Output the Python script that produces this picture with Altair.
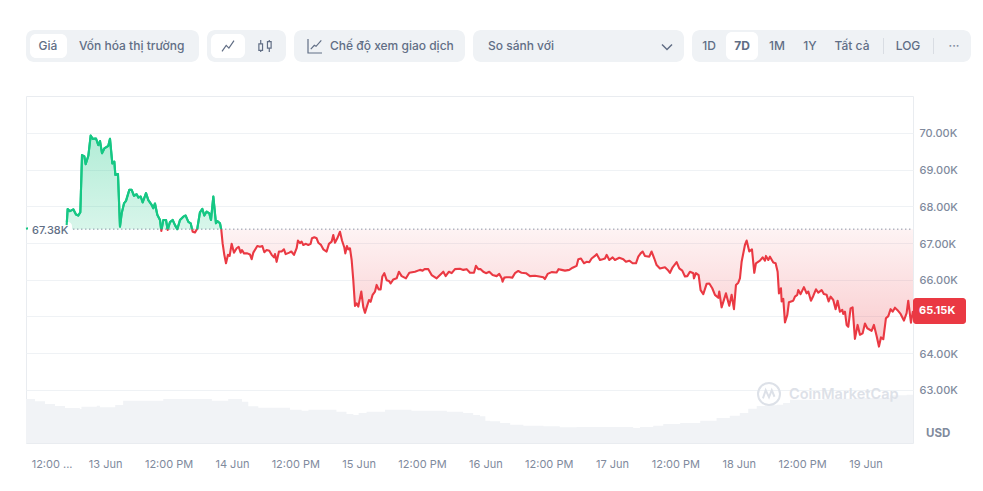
import altair as alt
import pandas as pd

BASE_PRICE = 67.38
LAST_PRICE = 65.15

HOURS = [0, 2, 4, 6, 7.70, 7.89, 8.33, 8.96, 9.47, 9.91, 10.29, 10.61, 11.05, 11.30, 11.81, 12.25, 12.63, 13.26, 13.70, 14.02, 14.39, 14.84, 15.59, 15.91, 16.35, 16.73, 16.92, 17.42, 17.80, 18.12, 18.56, 18.94, 19.57, 20.01, 20.45, 20.96, 21.28, 21.72, 22.10, 22.73, 23.17, 23.80, 24.12, 24.43, 24.87, 25.38, 25.63, 26.01, 26.52, 26.83, 27.27, 27.78, 28.22, 28.66, 29.17, 29.80, 30.24, 30.75, 31.19, 31.57, 32.01, 32.45, 32.95, 33.40, 33.77, 34.22, 34.72, 35.04, 35.48, 35.98, 36.24, 36.74, 36.99,
         37.24, 37.56, 37.88, 38.26, 38.57, 38.95, 39.39, 39.90, 40.28, 40.65, 40.91, 41.29, 41.92, 42.42, 42.74, 43.05, 43.81, 44.32, 44.76, 45.14, 45.58, 46.08, 46.53, 46.97, 47.16, 47.47, 47.91, 48.42, 48.86, 49.18, 49.87, 50.25, 50.76, 51.26, 51.51, 51.89, 52.21, 52.52, 53.03, 53.47, 53.91, 54.16, 54.61, 55.05, 55.36, 55.87, 56.31, 56.94, 57.38, 57.89, 58.20, 58.52, 58.96, 59.47, 59.85, 60.29, 60.48, 60.79, 61.05, 61.36, 61.68, 61.99, 62.31, 62.62, 62.94, 63.51, 63.89, 64.20, 64.52, 64.96, 65.28, 65.65, 66.10, 66.41, 66.79, 67.17, 67.49, 67.86, 68.31, 68.75, 69.06, 69.57, 70.20, 70.64, 71.15, 71.97, 72.60, 73.67, 74.62, 75.12, 75.50, 76.20, 76.83, 77.78, 78.41, 79.04, 79.48, 80.11, 80.62, 81.25, 82.19,
         82.83, 83.46, 84.09, 84.85, 85.22, 85.67, 86.11, 86.61, 87.12, 87.75, 88.38, 89.14, 89.64, 90.09, 90.27, 90.59, 91.03, 91.54, 92.11, 92.61, 93.24, 93.87, 94.69, 95.45, 96.40, 97.22, 97.98, 98.29, 98.80, 99.55, 100.50, 100.88, 101.45, 102.08, 102.90, 103.53, 104.29, 104.61, 105.11, 105.68, 106.18, 106.69, 107.13, 107.76, 108.08, 108.71, 109.21, 109.66, 109.97, 110.48, 111.11, 111.55, 112.37, 113.13, 113.63, 114.26, 114.90, 115.53, 115.97, 116.41, 116.79, 117.23, 118.05, 118.49, 119.00, 119.44, 120.07, 121.02, 121.65, 121.97, 122.47, 123.23, 123.73, 124.30, 124.81, 125.25, 125.75,
         126.39, 126.51, 126.89, 127.40, 127.77, 128.28, 128.91, 129.42, 129.98, 130.49, 131.12, 131.31, 131.75, 132.57, 133.20, 133.65, 134.09, 134.47, 134.91, 135.22, 135.54, 136.17, 136.49, 136.99, 137.50, 137.94, 138.25, 139.01, 139.52, 139.96, 140.15, 140.59, 140.91, 141.54, 141.98, 142.36, 142.61, 142.99, 143.12, 143.43, 143.75, 144.19, 144.50, 145.32, 145.64, 146.08, 146.27, 146.71, 147.34, 147.85, 148.17, 148.67, 149.11, 149.62, 150.06, 150.69, 151.13, 151.64, 152.02, 152.40, 152.90, 153.34, 153.72, 154.16, 154.61, 154.79, 155.11, 155.43, 155.74, 156.18, 156.56, 157.00, 157.51, 157.95, 158.46, 158.90, 159.34, 160.16, 160.60, 161.11, 161.55, 161.93, 162.37, 162.87, 163.32, 163.76, 164.14, 164.58, 165.02, 165.65, 166.28, 166.79, 167.10, 167.61, 168]

PRICES = [67.39, 67.45, 67.42, 67.48, 67.49, 67.93, 67.87, 67.92, 67.78, 67.75, 67.84, 69.40, 69.36, 69.15, 69.38, 69.93, 69.84, 69.85, 69.67, 69.78, 69.45, 69.58, 69.65, 69.84, 69.17, 69.22, 68.86, 68.88, 67.45, 67.81, 68.08, 68.15, 68.45, 68.45, 68.29, 68.33, 68.24, 68.27, 68.11, 68.36, 68.17, 68.04, 67.95, 68.08, 67.77, 67.63, 67.33, 67.63, 67.63, 67.36, 67.57, 67.63, 67.49, 67.38, 67.63, 67.72, 67.75, 67.58, 67.54, 67.31, 67.29, 67.40, 67.84, 67.93, 67.75, 67.86, 67.81, 67.63, 68.27, 67.54, 67.60, 67.54, 67.36,
          66.99, 66.68, 66.45, 66.68, 66.65, 66.98, 66.74, 66.86, 66.90, 66.74, 66.81, 66.72, 66.72, 66.69, 66.56, 66.74, 66.92, 66.90, 66.92, 66.75, 66.81, 66.79, 66.68, 66.61, 66.70, 66.49, 66.77, 66.77, 66.83, 66.70, 66.74, 66.77, 66.68, 66.86, 67.07, 67.00, 67.04, 66.95, 66.98, 66.95, 66.98, 67.13, 67.16, 67.13, 67.01, 66.95, 66.83, 66.77, 66.98, 67.04, 67.22, 67.01, 67.13, 67.31, 67.07, 66.88, 66.72, 66.92, 66.83, 66.86, 66.54, 65.99, 65.29, 65.36, 65.27, 65.68, 65.25, 65.10, 65.25, 65.45, 65.40, 65.59, 65.68, 65.86, 65.74, 65.74, 66.09, 66.18, 65.99, 65.97, 65.90, 66.01, 66.04, 66.22, 66.10, 66.04, 66.19, 66.22, 66.27, 66.25, 66.29, 66.29, 66.13, 66.04, 66.13, 66.22, 66.10, 66.22, 66.18, 66.29, 66.30,
          66.27, 66.29, 66.19, 66.19, 66.38, 66.29, 66.29, 66.22, 66.18, 66.22, 66.13, 66.10, 66.16, 66.04, 65.95, 66.06, 66.07, 66.07, 66.06, 66.18, 66.24, 66.19, 66.18, 66.10, 66.11, 66.09, 66.07, 66.02, 66.16, 66.21, 66.20, 66.29, 66.27, 66.25, 66.27, 66.33, 66.38, 66.56, 66.58, 66.45, 66.49, 66.48, 66.58, 66.65, 66.70, 66.54, 66.56, 66.58, 66.68, 66.54, 66.61, 66.54, 66.60, 66.56, 66.49, 66.52, 66.45, 66.45, 66.63, 66.72, 66.77, 66.65, 66.63, 66.77, 66.58, 66.40, 66.31, 66.34, 66.25, 66.19, 66.34, 66.48, 66.31, 66.25, 66.09, 66.10, 66.22,
          66.18, 66.04, 66.18, 66.13, 65.72, 65.61, 65.89, 65.90, 65.77, 65.59, 65.51, 65.68, 65.25, 65.63, 65.29, 65.59, 65.20, 65.86, 65.92, 66.04, 66.49, 66.95, 67.07, 66.77, 66.83, 66.19, 66.45, 66.52, 66.61, 66.52, 66.65, 66.54, 66.63, 66.47, 66.45, 66.22, 65.63, 65.77, 65.41, 65.48, 64.84, 65.04, 65.39, 65.43, 65.54, 65.59, 65.72, 65.61, 65.80, 65.63, 65.68, 65.43, 65.56, 65.74, 65.65, 65.72, 65.61, 65.59, 65.41, 65.54, 65.45, 65.20, 65.43, 65.13, 65.18, 65.07, 65.13, 64.77, 64.72, 65.22, 65.25, 64.39, 64.77, 64.50, 64.54, 64.81, 64.68, 64.61, 64.77, 64.47, 64.18, 64.43, 64.38, 64.95, 65.01, 65.20, 65.13, 65.24, 65.18, 65.07, 64.89, 65.09, 65.43, 64.83, 65.15]

VOL_HOURS = [0, 1.7, 3.6, 5.5, 7.4, 10.2, 10.5, 13.4, 14.0, 15.9, 16.9, 18.4, 25.4, 26.0, 34.5, 35.2, 37.7, 38.3, 39.9, 40.9, 42.1, 44.0, 48.7, 50.0, 52.2, 53.5, 57.3, 58.8, 60.7, 62.0, 63.0, 64.5, 67.4, 68.0, 72.7, 73.0, 79.7, 82.8, 84.7, 86.0, 87.0, 87.9, 89.8, 91.7, 94.2, 98.0, 101.1, 104.3, 113.8, 115.0, 116.3, 118.8, 120.7, 123.9, 127.7, 130.8, 133.3, 135.2, 136.8, 138.4, 140.3, 142.2, 143.4, 144.7, 151.0, 157.3, 163.6, 166.8, 168]
VOLUMES = [44, 41.7, 39, 37, 35, 34, 36.3, 37.3, 35.7, 35.7, 38, 42.3, 42.3, 44, 44, 42.3, 42.3, 44, 44, 41.3, 36.7, 35.3, 35.3, 33.3, 32.3, 33.3, 33.3, 31.3, 29, 28, 30, 31.3, 31.3, 33.3, 33.3, 32.3, 31.3, 30, 28, 26.7, 22.3, 21.7, 20, 18.3, 17.3, 16.7, 15.7, 16, 16, 15, 16, 17.3, 19, 20, 22.3, 25, 27.3, 30, 34.3, 37, 37.7, 38.3, 40, 43.3, 44.3, 45, 47.7, 48.3, 46.7]

TICK_HOURS = [4.85, 15, 27, 39, 51, 63, 75, 87, 99, 111, 123, 135, 147, 159]
TICK_LABELS = ["12:00 ...", "13 Jun", "12:00 PM", "14 Jun", "12:00 PM", "15 Jun", "12:00 PM", "16 Jun", "12:00 PM", "17 Jun", "12:00 PM", "18 Jun", "12:00 PM", "19 Jun"]
PRICE_TICKS = [63, 64, 65, 66, 67, 68, 69, 70]

GREEN, RED = "#16c784", "#ea3943"
MUTED, CHIP, TEXT = "#808a9d", "#eff2f5", "#616e85"
FONT = "Inter"
L, T = 26, 96  # plot origin on the page

# split the price path into runs above / below the opening price
rows, run = [], 0
for i, (h, p) in enumerate(zip(HOURS, PRICES)):
    if i:
        h0, p0 = HOURS[i - 1], PRICES[i - 1]
        if (p0 - BASE_PRICE) * (p - BASE_PRICE) < 0:
            hc = h0 + (h - h0) * (BASE_PRICE - p0) / (p - p0)
            rows.append(dict(h=hc, p=BASE_PRICE, run=run, side="up" if p0 > BASE_PRICE else "down"))
            run += 1
            rows.append(dict(h=hc, p=BASE_PRICE, run=run, side="up" if p > BASE_PRICE else "down"))
    rows.append(dict(h=h, p=p, run=run, side="up" if p >= BASE_PRICE else "down"))
df = pd.DataFrame(rows)
df["hi"] = df.p.clip(lower=BASE_PRICE)
df["lo"] = df.p.clip(upper=BASE_PRICE)
df["base"] = BASE_PRICE
vol = pd.DataFrame({"h": VOL_HOURS, "v": VOLUMES})
one = pd.DataFrame({"a": [0]})

xs = alt.Scale(domain=[0, 168], nice=False, zero=False)
ys = alt.Scale(domain=[61.553, 71.008], nice=False, zero=False)
X = alt.X("h:Q", scale=xs, axis=None)


def Y(f):
    return alt.Y(f + ":Q", scale=ys, axis=None)


def box(x0, x1, y0, y1, color, r=0):
    return alt.Chart(one).mark_rect(color=color, cornerRadius=r).encode(
        x=alt.value(x0 - L), x2=alt.value(x1 - L), y=alt.value(y0 - T), y2=alt.value(y1 - T))


def label(s, x, y, align="left", size=12, weight=500, color=TEXT):
    return alt.Chart(one).mark_text(font=FONT, fontSize=size, fontWeight=weight, color=color,
                                    align=align, baseline="middle").encode(
        x=alt.value(x - L), y=alt.value(y - T), text=alt.value(s))


def icon(path, x, y, size, color=TEXT, width=1.2):
    return alt.Chart(one).mark_point(shape=path, size=size, filled=False, stroke=color,
                                     strokeWidth=width, opacity=1).encode(
        x=alt.value(x - L), y=alt.value(y - T))


def grad(stops):
    return alt.Gradient(gradient="linear", x1=0, x2=0, y1=0, y2=1,
                        stops=[alt.GradientStop(color=c, offset=o) for o, c in stops])


label_expr = "[" + ",".join(f"'{s}'" for s in TICK_LABELS) + "][round((datum.value-3)/12)]"

axes = alt.Chart(df).mark_line(opacity=0).encode(
    x=alt.X("h:Q", scale=xs, axis=alt.Axis(
        values=TICK_HOURS, labelExpr=label_expr, title=None, grid=False, domain=False, ticks=False,
        labelFont=FONT, labelFontSize=11, labelColor=MUTED, labelPadding=15, labelOverlap=False,
        labelBound=False, labelFlush=False)),
    y=alt.Y("p:Q", scale=ys, axis=alt.Axis(
        orient="right", values=PRICE_TICKS,
        labelExpr="datum.value==65?'':format(datum.value,'.2f')+'K'", title=None,
        grid=True, gridColor=CHIP, gridWidth=1, domain=False, ticks=False, labelFont=FONT,
        labelFontSize=11, labelFontWeight=500, labelColor=MUTED, labelPadding=6, labelOffset=1)),
)

volume = alt.Chart(vol).mark_area(color="#f1f3f6", interpolate="step-after").encode(
    x=X, y=alt.Y("v:Q", scale=alt.Scale(domain=[0, 100], range=[347, 247]), axis=None))

area_up = alt.Chart(df).mark_area(color=grad([(0, "rgba(22,199,132,0.33)"), (1, "rgba(22,199,132,0.17)")])).encode(
    x=X, y=Y("hi"), y2="base:Q")
area_down = alt.Chart(df).mark_area(color=grad([(0, "rgba(234,57,67,0.06)"), (1, "rgba(234,57,67,0.27)")])).encode(
    x=X, y=Y("lo"), y2="base:Q")


def line(side, data=df):
    d = data[data.side == side]
    return alt.Chart(d).mark_line(color=GREEN if side == "up" else RED, strokeWidth=2.1,
                                  strokeJoin="round").encode(x=X, y=Y("p"), detail="run:N")


visible = df[df.h >= 7.7]
dotted = alt.Chart(df[df.h >= 8.7]).mark_line(color="#58667e", strokeWidth=1, strokeDash=[1, 3]).encode(
    x=X, y=Y("base"))

LOGO = "M-1,0 A1,1 0 1 1 1,0 A1,1 0 1 1 -1,0 M-0.55,0.4 L-0.3,-0.35 L0,0.3 L0.25,-0.35 L0.5,0.25"
LINE_ICON = "M-1,0.9 L-0.3,-0.1 L0.15,0.35 L1,-0.9"
CANDLE_ICON = ("M-0.7,-1 V-0.35 M-0.7,0.7 V1 M-1,-0.35 H-0.4 V0.7 H-1 Z "
               "M0.7,-1 V-0.7 M0.7,0.35 V1 M0.4,-0.7 H1 V0.35 H0.4 Z")
MODE_ICON = "M-1,-1 V1 H1 M-0.6,0.45 L-0.1,-0.1 L0.15,0.05 L0.9,-0.8"
CHEVRON = "M-1,-0.5 L0,0.5 L1,-0.5"

layers = [
    axes,
    volume,
    icon(LOGO, 769, 394, 484, "#dde1e8", 2),
    label("CoinMarketCap", 789, 395, size=14.5, weight=600, color="#dde1e8"),
    area_up, area_down,
    line("up"), line("down"),
    box(28, 72, 222, 239, "#ffffff", 4),
    line("up", visible),
    dotted,
    label("67.38K", 32, 231, size=11, weight=500),
    box(913, 966, 298, 324, RED, 3),
    label("65.15K", 919, 311, size=11, weight=700, color="#ffffff"),
    label("USD", 926, 434, size=11.5, weight=700, color=MUTED),
    box(26, 199, 30, 62, CHIP, 8), box(30, 67, 34, 58, "#ffffff", 6),
    label("Giá", 48, 46, "center"), label("Vốn hóa thị trường", 79, 46),
    box(207, 286, 30, 62, CHIP, 8), box(211, 245, 34, 58, "#ffffff", 6),
    icon(LINE_ICON, 228, 46, 144), icon(CANDLE_ICON, 265, 46, 150),
    box(294, 465, 30, 62, CHIP, 8),
    icon(MODE_ICON, 315, 46, 196), label("Chế độ xem giao dịch", 330, 46),
    box(473, 684, 30, 62, CHIP, 8),
    label("So sánh với", 488, 46), icon(CHEVRON, 667, 47, 100, TEXT, 1.5),
    box(692, 971, 30, 62, CHIP, 8), box(726, 758, 32, 60, "#ffffff", 6),
    label("1D", 709, 46, "center"), label("7D", 742, 46, "center", weight=700),
    label("1M", 777, 46, "center"), label("1Y", 810, 46, "center"),
    label("Tất cả", 852, 46, "center"),
    box(883, 884, 38, 54, "#d9dde3"), label("LOG", 908, 46, "center"),
    box(933, 934, 38, 54, "#d9dde3"), label("···", 954, 46, "center", color=MUTED),
]

chart = alt.layer(*layers).resolve_scale(x="independent", y="independent").properties(
    width=887, height=347,
    padding={"left": 18, "top": 88, "right": 62, "bottom": 40},
    autosize=alt.AutoSizeParams(type="none"),
    background="#ffffff",
).configure_view(stroke="#e9ecf0")

chart.save("out.html", embed_options={"renderer": "svg", "actions": False})
